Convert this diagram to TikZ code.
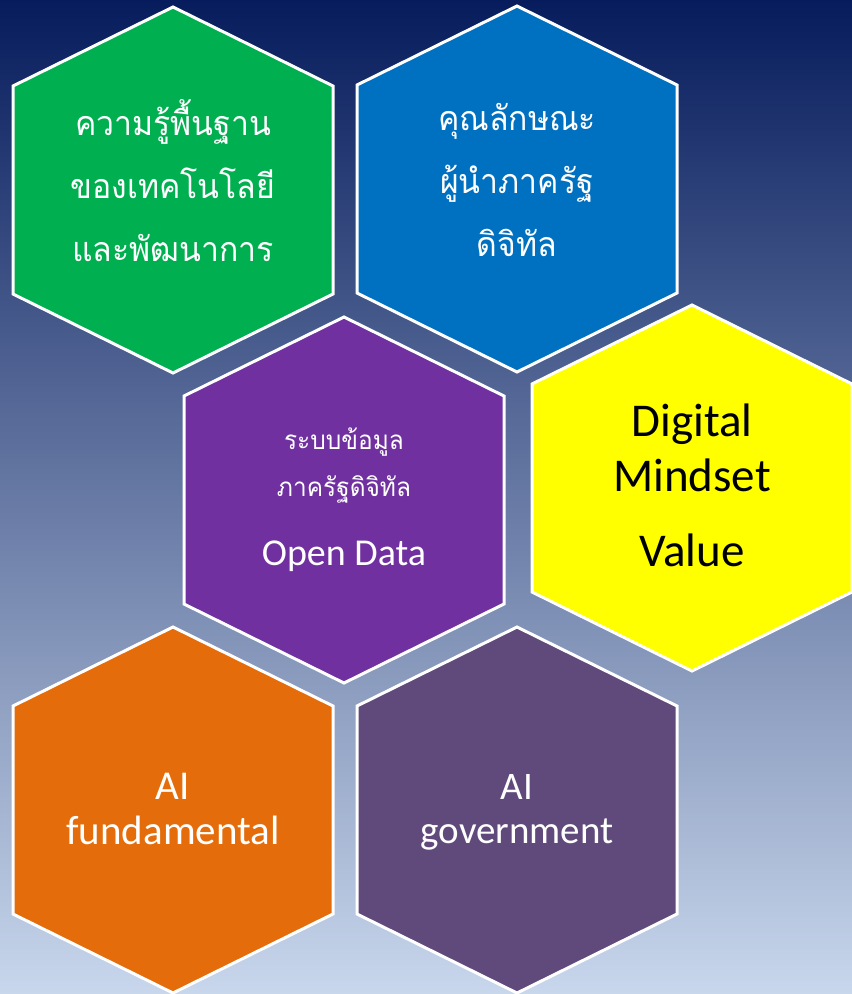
\documentclass[tikz,border=0pt]{standalone}
\usepackage{fontspec}
\setmainfont{Carlito}
\newfontfamily\thaifont[Script=Thai, FakeStretch=0.94]{Loma}
\usetikzlibrary{positioning}
\definecolor{bgtop}{RGB}{6,28,92}
\definecolor{bgmid}{RGB}{88,114,160}
\definecolor{bgbot}{RGB}{200,215,236}
\definecolor{hexgreen}{RGB}{0,176,80}
\definecolor{hexblue}{RGB}{0,112,192}
\definecolor{hexpurple}{RGB}{112,48,160}
\definecolor{hexyellow}{RGB}{255,255,0}
\definecolor{hexorange}{RGB}{228,108,10}
\definecolor{hexgrey}{RGB}{96,74,123}
\tikzset{
  hexcell/.style={draw=white, line width=3pt, line join=miter},
  thailabel/.style={text=white, align=center, inner sep=0pt,
    font=\thaifont\fontsize{34}{63}\selectfont},
  latinlabel/.style={text=white, align=center, inner sep=0pt,
    font=\fontsize{41}{45}\selectfont}
}

\begin{document}
\begin{tikzpicture}[x=1pt, y=-1pt]
    % background
    \shade[top color=bgtop, middle color=bgmid, bottom color=bgbot] (0,0) rectangle (852,994);
    \useasboundingbox (0,0) rectangle (852,994);

    % hexagon cells
    \foreach \n/\cx/\cy/\col in {basics/173/190/hexgreen, leader/517/189/hexblue,
        opendata/344/500/hexpurple, mindset/692/488/hexyellow,
        aifund/173/810/hexorange, aigov/517/810/hexgrey} {
        \coordinate (c-\n) at (\cx,\cy);
        \draw[hexcell, fill=\col] (c-\n) +(0,-183) -- +(160,-104) -- +(160,104)
            -- +(0,183) -- +(-160,104) -- +(-160,-104) -- cycle;
    }

    % labels
    \node[thailabel] (basics) at ([yshift=9]c-basics) {ความรู้พื้นฐาน\\ของเทคโนโลยี\\และพัฒนาการ};
    \node[thailabel] (leader) at ([yshift=9]c-leader) {คุณลักษณะ\\ผู้นำภาครัฐ\\ดิจิทัล};
    \node[text=white, align=center, inner sep=0pt, font=\thaifont\fontsize{26}{47}\selectfont]
        (opendata) at (c-opendata)
        {ระบบข้อมูล\\ภาครัฐดิจิทัล\\[22pt]\normalfont\fontsize{38}{47}\selectfont Open Data};
    \node[text=black, align=center, inner sep=0pt, font=\fontsize{47}{55}\selectfont]
        (mindset) at ([yshift=3]c-mindset) {Digital\\Mindset\\[20pt]Value};
    \node[latinlabel] (aifund) at ([yshift=1]c-aifund) {AI\\fundamental};
    \node[latinlabel, font=\fontsize{39}{44}\selectfont] (aigov) at ([yshift=-2]c-aigov) {AI\\government};
\end{tikzpicture}
\end{document}
